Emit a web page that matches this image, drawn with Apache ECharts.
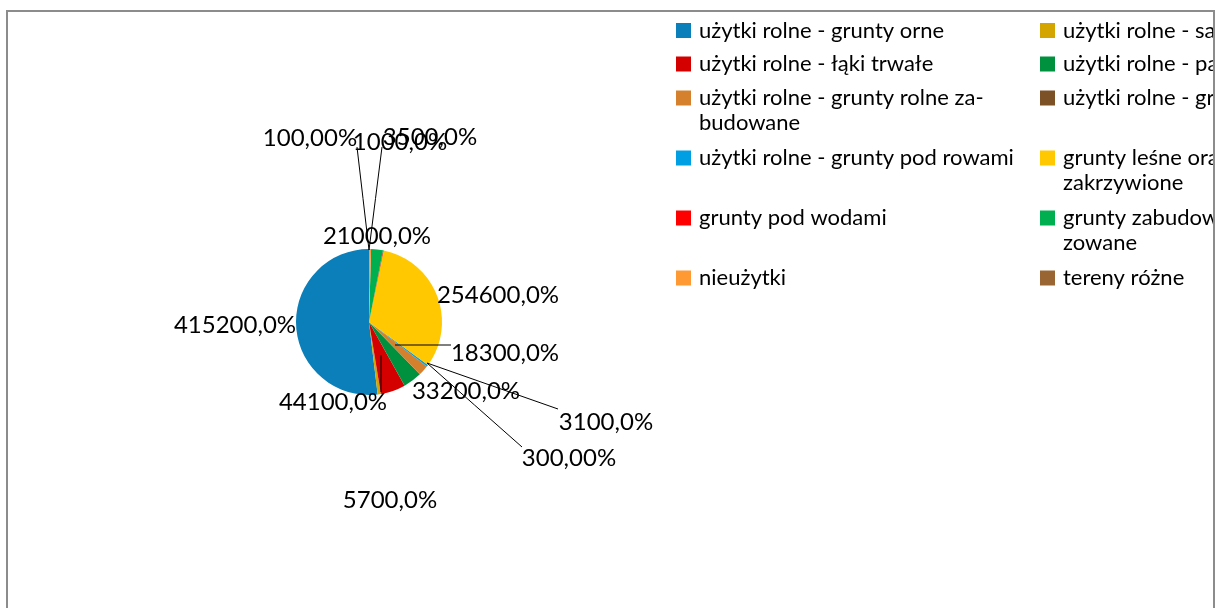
<!DOCTYPE html>
<html>
<head>
<meta charset="utf-8">
<script src="https://cdn.jsdelivr.net/npm/echarts@6/dist/echarts.min.js"></script>
<style>
	html, body { margin: 0; padding: 0; background: #fff; overflow: hidden; }
	#frame { position: absolute; left: 6px; top: 10px; width: 1205px; height: 700px; border: 2px solid #8c8c8c; }
	#content_pie { width: 1205px; height: 700px; }
</style>
</head>
<body>
<div id="frame"><div id="content_pie"></div></div>

<script type="text/javascript">
	// categories (legend order = drawing order)
	var categories = [
		'użytki rolne - grunty orne',
		'użytki rolne - sady',
		'użytki rolne - łąki trwałe',
		'użytki rolne - pastwiska trwałe',
		'użytki rolne - grunty rolne zabudowane',
		'użytki rolne - grunty pod stawami',
		'użytki rolne - grunty pod rowami',
		'grunty leśne oraz zadrzewione i zakrzywione',
		'grunty pod wodami',
		'grunty zabudowane i zurbanizowane',
		'nieużytki',
		'tereny różne'
	];
	// legend text as it is wrapped in the picture
	var legendText = [
		'użytki rolne - grunty orne',
		'użytki rolne - sady',
		'użytki rolne - łąki trwałe',
		'użytki rolne - pastwiska trwałe',
		'użytki rolne - grunty rolne za-\nbudowane',
		'użytki rolne - grunty pod stawami',
		'użytki rolne - grunty pod rowami',
		'grunty leśne oraz zadrzewione i\nzakrzywione',
		'grunty pod wodami',
		'grunty zabudowane i zurbani-\nzowane',
		'nieużytki',
		'tereny różne'
	];
	var values = [415200, 5700, 44100, 33200, 18300, 300, 3100, 254600, 1000, 21000, 3500, 100];

	var colors = ['#0a7fb9', '#d4a500', '#d40000', '#00913e', '#d5802c', '#7d5126',
		'#009fe3', '#ffc800', '#ff0000', '#00b050', '#ff9933', '#996633'];

	// where each value label sits (label centre, px)
	var labelSpots = [
		[227, 313], [382, 488], [325, 390], [458, 379],
		[497, 341], [561, 446], [598, 410], [490, 283],
		[392, 130], [369, 224], [422, 125], [302, 126]
	];
	// leader lines, as Excel drew them: [from x, from y, to x, to y]
	var leaders = {
		2: [373, 343, 373, 380],
		4: [387, 333, 443, 333],
		5: [419, 351, 514, 435],
		6: [419, 351, 550, 397],
		10: [361, 238, 374, 135],
		11: [361, 238, 349, 135]
	};

	// legend grid: column x, row icon centre y
	var legendColX = [668, 1032];
	var legendRowY = [18.5, 52, 86, 146, 206, 266];

	function fmtPct(v){
		return (v >= 1000 ? v.toFixed(1) : v.toFixed(2)).replace('.', ',') + '%';
	}

	content_pie();

	function content_pie(){
		var chart = echarts.init(document.getElementById('content_pie'));

		var legends = categories.map(function(name, i){
			var twoLines = legendText[i].indexOf('\n') >= 0;
			// a blank first line keeps the icon level with the first text line
			var txt = twoLines ? ' \n' + legendText[i] : legendText[i];
			var cy = legendRowY[Math.floor(i / 2)];
			return {
				data: [name],
				left: legendColX[i % 2],
				top: twoLines ? cy - 37.5 : cy - 12.5,
				padding: 0,
				itemWidth: 15,
				itemHeight: 15,
				icon: 'rect',
				selectedMode: false,
				formatter: function(){ return txt; },
				textStyle: {
					fontFamily: 'Lato',
					fontSize: 22,
					lineHeight: 25,
					color: '#000',
					padding: [0, 0, 0, 3]
				}
			};
		});

		function placeLabel(withLine){
			return function(p){
				var s = labelSpots[p.dataIndex];
				var out = { x: s[0], y: s[1], align: 'center', verticalAlign: 'middle' };
				var l = leaders[p.dataIndex];
				if (withLine && l) {
					out.labelLinePoints = [[l[0], l[1]], [(l[0] + l[2]) / 2, (l[1] + l[3]) / 2], [l[2], l[3]]];
				}
				return out;
			};
		}

		var pieBase = {
			type: 'pie',
			center: [361, 310],
			radius: 73,
			startAngle: 90,
			clockwise: false,
			avoidLabelOverlap: false,
			itemStyle: { borderWidth: 0 }
		};

		// slices and value labels
		var slices = echarts.util.extend({
			z: 2,
			label: {
				show: true,
				position: 'outside',
				fontFamily: 'Lato',
				fontSize: 24,
				color: '#000',
				formatter: function(p){ return fmtPct(p.value); }
			},
			labelLine: { show: false },
			labelLayout: placeLabel(false),
			data: values.map(function(v, i){
				return { name: categories[i], value: v, itemStyle: { color: colors[i] } };
			})
		}, pieBase);

		// same pie, see-through, only to draw the leader lines over the slices
		var leaderLayer = echarts.util.extend({
			z: 3,
			silent: true,
			label: {
				show: true,
				position: 'outside',
				fontFamily: 'Lato',
				fontSize: 24,
				color: 'rgba(0,0,0,0)',
				formatter: function(p){ return fmtPct(p.value); }
			},
			labelLine: {
				show: true,
				length: 10,
				length2: 10,
				lineStyle: { color: '#000', width: 1, opacity: 1 }
			},
			labelLayout: placeLabel(true),
			data: values.map(function(v, i){
				return {
					name: categories[i],
					value: v,
					itemStyle: { color: 'rgba(0,0,0,0)' },
					labelLine: { show: !!leaders[i] }
				};
			})
		}, pieBase);

		chart.setOption({
			animation: false,
			legend: legends,
			series: [slices, leaderLayer]
		});
	}
</script>
</body>
</html>
